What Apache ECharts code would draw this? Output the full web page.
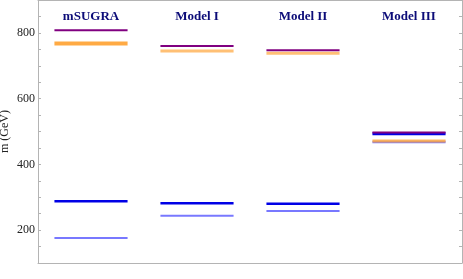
<!DOCTYPE html>
<html><head><meta charset="utf-8">
<script src="https://cdn.jsdelivr.net/npm/echarts@6/dist/echarts.min.js"></script>
<style>html,body{margin:0;padding:0;background:#fff}#c{width:463px;height:279px}</style>
</head><body><div id="c"></div>
<script>
const categories = ['mSUGRA', 'Model I', 'Model II', 'Model III'];
const purpleLevel = [808, 760, 747, 497];
const orangeLevel = [768, 745, 738, 471];
const blueLevel = [288, 282, 280, 493];
const lightBlueLevel = [176, 244, 258, 468];
const yTickLabels = [200, 400, 600, 800];

const chart = echarts.init(document.getElementById('c'), null, {renderer: 'canvas'});
const FONT = 'Liberation Serif';
const AX = '#b4b4b4';

function seg(color, widths, opacities) {
  return function (params, api) {
    const i = api.value(0);
    const p = api.coord([i, api.value(1)]);
    const bw = api.size([1, 0])[0] * 0.69;
    return {
      type: 'line',
      shape: {x1: p[0] - bw / 2, y1: p[1], x2: p[0] + bw / 2, y2: p[1]},
      style: {stroke: color, lineWidth: widths[i], opacity: opacities[i]}
    };
  };
}
function mk(name, vals, color, widths, opacities, z) {
  return {
    name, type: 'custom', z,
    data: vals.map((v, i) => [i, v]),
    encode: {x: 0, y: 1},
    renderItem: seg(color, widths, opacities)
  };
}

chart.setOption({
  animation: false,
  grid: {left: 38, right: 1, top: 0, bottom: 16, containLabel: false, outerBoundsMode: 'none'},
  xAxis: [
    {type: 'category', data: categories, position: 'bottom',
     axisLine: {lineStyle: {color: AX}}, axisTick: {show: false}, axisLabel: {show: false}},
    {type: 'category', data: categories, position: 'top',
     axisLine: {lineStyle: {color: AX}}, axisTick: {show: false},
     axisLabel: {inside: true, margin: 10, fontFamily: FONT, fontWeight: 'bold', fontSize: 13, color: '#0c0c78'}}
  ],
  yAxis: [
    {type: 'value', min: 100, max: 900, interval: 100, position: 'left',
     name: 'm (GeV)', nameLocation: 'middle', nameGap: 27, nameMoveOverlap: false,
     nameTextStyle: {fontFamily: FONT, fontSize: 12, color: '#222'},
     axisLine: {show: true, lineStyle: {color: AX}},
     axisTick: {show: true, inside: true, length: 3, lineStyle: {color: AX}},
     minorTick: {show: true, splitNumber: 2, length: 3, lineStyle: {color: AX}},
     splitLine: {show: false},
     axisLabel: {margin: 3, fontFamily: FONT, fontSize: 12, color: '#222',
       formatter: v => yTickLabels.indexOf(v) >= 0 ? String(v) : ''}},
    {type: 'value', min: 100, max: 900, interval: 100, position: 'right',
     axisLine: {show: true, lineStyle: {color: AX}},
     axisTick: {show: true, inside: true, length: 3, lineStyle: {color: AX}},
     minorTick: {show: true, splitNumber: 2, length: 3, lineStyle: {color: AX}},
     splitLine: {show: false}, axisLabel: {show: false}}
  ],
  series: [
    mk('lightblue', lightBlueLevel, '#7878ff', [2, 2, 2, 2.5], [1, 1, 1, 1], 2),
    mk('orange', orangeLevel, '#ffa53a', [4, 3, 3, 3], [0.95, 0.7, 0.7, 0.8], 3),
    mk('blue', blueLevel, '#0000e6', [2.5, 2.5, 2.5, 3], [1, 1, 1, 1], 4),
    mk('purple', purpleLevel, '#800080', [2, 2, 2, 2], [1, 1, 1, 1], 5)
  ]
});
</script></body></html>
